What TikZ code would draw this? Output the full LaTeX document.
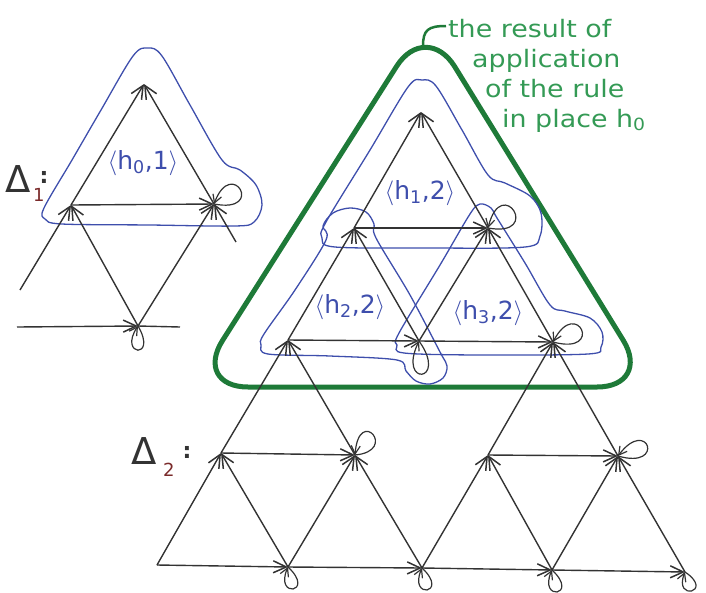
\documentclass[tikz,border=0pt]{standalone}
\usepackage{fontspec}
\setmainfont{DejaVu Sans}
\usetikzlibrary{arrows.meta}
\definecolor{ink}{HTML}{333333}
\definecolor{bink}{RGB}{62,78,172}
\definecolor{gink}{HTML}{1E7A38}
\definecolor{gtext}{HTML}{349A55}
\definecolor{rink}{HTML}{7A2A2A}
\begin{document}
\begin{tikzpicture}[x=1pt,y=-1pt,
  arr/.style={ink,line width=1.4pt,-{Straight Barb[length=13pt,width=12pt,line width=1.5pt]}},
  lp/.style={ink,line width=1.2pt,-{Straight Barb[length=8pt,width=9pt,line width=1.2pt]}},
  ln/.style={ink,line width=1.4pt},
  bl/.style={bink,line width=1.3pt},
  lbl/.style={bink,inner sep=0pt,font=\fontsize{25}{25}\selectfont},
  gtxt/.style={gtext,inner sep=0pt,anchor=base west,font=\fontsize{24}{24}\selectfont},
  dlt/.style={ink,inner sep=0pt,anchor=base west,font=\fontsize{37}{37}\selectfont},
  dsub/.style={rink,inner sep=0pt,anchor=base west,font=\fontsize{18}{18}\selectfont},
  dcol/.style={ink,inner sep=0pt,font=\fontsize{22}{22}\selectfont\bfseries}
]
\useasboundingbox (0,0) rectangle (706,592);

% ---------- Delta_1 ----------
\coordinate (P) at (144,84);
\coordinate (L) at (71,205);
\coordinate (R) at (214,204);
\coordinate (B) at (138,326);
\coordinate (XL) at (20,290);
\coordinate (XR) at (236,242);
\coordinate (XB) at (17,327);
\coordinate (XB2) at (180,327);

\draw[bl] plot[smooth cycle,tension=0.55] coordinates {(148,48) (162,56) (190,105) (222,160) (240,170) (256,185) (262,205) (254,222) (235,226) (150,225) (62,224) (45,219) (44,208) (72,160) (101,110) (133,56)};

\draw[arr] (XL) -- (L);
\draw[arr] (L) -- (P);
\draw[arr] (R) -- (P);
\draw[arr] (L) -- (R);
\draw[arr] (B) -- (L);
\draw[arr] (B) -- (R);
\draw[arr] (XR) -- (R);
\draw[arr] (XB) -- (B);
\draw[ln] (B) -- (XB2);
\draw[lp] (R) .. controls +(52,10) and +(18,-48) .. (R);
\draw[lp] (B) .. controls +(20,34) and +(-20,30) .. (B);

\node[lbl] (h0) at (143,163) {$\langle$h\textsubscript{0},1$\rangle$};
\node[dlt] (D1) at (5,192) {Δ};
\node[dsub] (D1s) at (33,201) {1};
\node[dcol] (D1c) at (44,177) {:};

% ---------- lattice Delta_2 ----------
\coordinate (a) at (421,112);
\coordinate (b1) at (354,228);
\coordinate (b2) at (488,228);
\coordinate (c1) at (288,340);
\coordinate (c2) at (419,341);
\coordinate (c3) at (553,342);
\coordinate (d1) at (221,453);
\coordinate (d2) at (355,455);
\coordinate (d3) at (488,455);
\coordinate (d4) at (618,456);
\coordinate (e1) at (157,565);
\coordinate (e2) at (288,567);
\coordinate (e3) at (422,568);
\coordinate (e4) at (552,570);
\coordinate (e5) at (685,572);

% green outline
\draw[gink,line width=5pt,rounded corners=55pt] (420,387) -- (193,387) -- (426,20) -- (652,387) -- cycle;
\coordinate (gt) at (423,46);
\coordinate (tt) at (446,26);
\draw[gink,line width=2.5pt] (gt) .. controls (423,30) and (428,26) .. (tt);

% blue outlines
\draw[bl] plot[smooth cycle,tension=0.55] coordinates {(422,80) (436,86) (462,130) (488,175) (505,183) (530,196) (541,213) (540,236) (525,247) (430,248) (335,247) (322,238) (326,222) (370,150) (408,87)};
\draw[bl] plot[smooth cycle,tension=0.55] coordinates {(350,208) (366,212) (374,224) (376,238) (410,295) (440,352) (447,366) (443,378) (430,384) (416,381) (406,371) (397,360) (330,356) (268,354) (261,345) (264,334) (295,290) (326,240) (323,226) (333,213)};
\draw[bl] plot[smooth cycle,tension=0.55] coordinates {(480,204) (491,208) (497,218) (525,263) (550,305) (565,311) (590,318) (602,332) (601,347) (588,354) (480,355) (404,353) (397,345) (399,333) (440,265) (470,214)};

% edges
\draw[arr] (e1) -- (d1);
\draw[arr] (d1) -- (c1);
\draw[arr] (c1) -- (b1);
\draw[arr] (b1) -- (a);
\draw[arr] (e5) -- (d4);
\draw[arr] (d4) -- (c3);
\draw[arr] (c3) -- (b2);
\draw[arr] (b2) -- (a);
\draw[arr] (b1) -- (b2);
\draw[arr] (c1) -- (c2);
\draw[arr] (c2) -- (c3);
\draw[arr] (d1) -- (d2);
\draw[arr] (d3) -- (d4);
\draw[arr] (e1) -- (e2);
\draw[arr] (e2) -- (e3);
\draw[arr] (e3) -- (e4);
\draw[arr] (e4) -- (e5);
\draw[arr] (c2) -- (b1);
\draw[arr] (c2) -- (b2);
\draw[arr] (e2) -- (d1);
\draw[arr] (e2) -- (d2);
\draw[arr] (e4) -- (d3);
\draw[arr] (e4) -- (d4);
\draw[arr] (d2) -- (c1);
\draw[arr] (d3) -- (c3);
\draw[arr] (e3) -- (d2);
\draw[arr] (e3) -- (d3);

% loops
\draw[lp] (b2) .. controls +(55,10) and +(14,-55) .. (b2);
\draw[lp] (c3) .. controls +(52,14) and +(24,-46) .. (c3);
\draw[lp] (c2) .. controls +(30,42) and +(-22,46) .. (c2);
\draw[lp] (d2) .. controls +(44,-4) and +(4,-50) .. (d2);
\draw[lp] (d4) .. controls +(48,14) and +(30,-40) .. (d4);
\draw[lp] (e2) .. controls +(28,26) and +(-14,32) .. (e2);
\draw[lp] (e3) .. controls +(28,26) and +(-14,32) .. (e3);
\draw[lp] (e4) .. controls +(28,26) and +(-14,32) .. (e4);
\draw[lp] (e5) .. controls +(30,20) and +(-12,30) .. (e5);

% labels
\node[lbl] (h1) at (420,193) {$\langle$h\textsubscript{1},2$\rangle$};
\node[lbl] (h2) at (350,307) {$\langle$h\textsubscript{2},2$\rangle$};
\node[lbl] (h3) at (488,313) {$\langle$h\textsubscript{3},2$\rangle$};

\node[dlt] (D2) at (131,464) {Δ};
\node[dsub] (D2s) at (163,476) {2};
\node[dcol] (D2c) at (187,452) {:};

% green text
\node[gtxt] (t1) at (448,37) {\scalebox{1.12}[1]{the result of}};
\node[gtxt] (t2) at (472,67) {\scalebox{1.12}[1]{application}};
\node[gtxt] (t3) at (485,97) {\scalebox{1.12}[1]{of the rule}};
\node[gtxt] (t4) at (502,127) {\scalebox{1.12}[1]{in place h\textsubscript{0}}};
\end{tikzpicture}
\end{document}
